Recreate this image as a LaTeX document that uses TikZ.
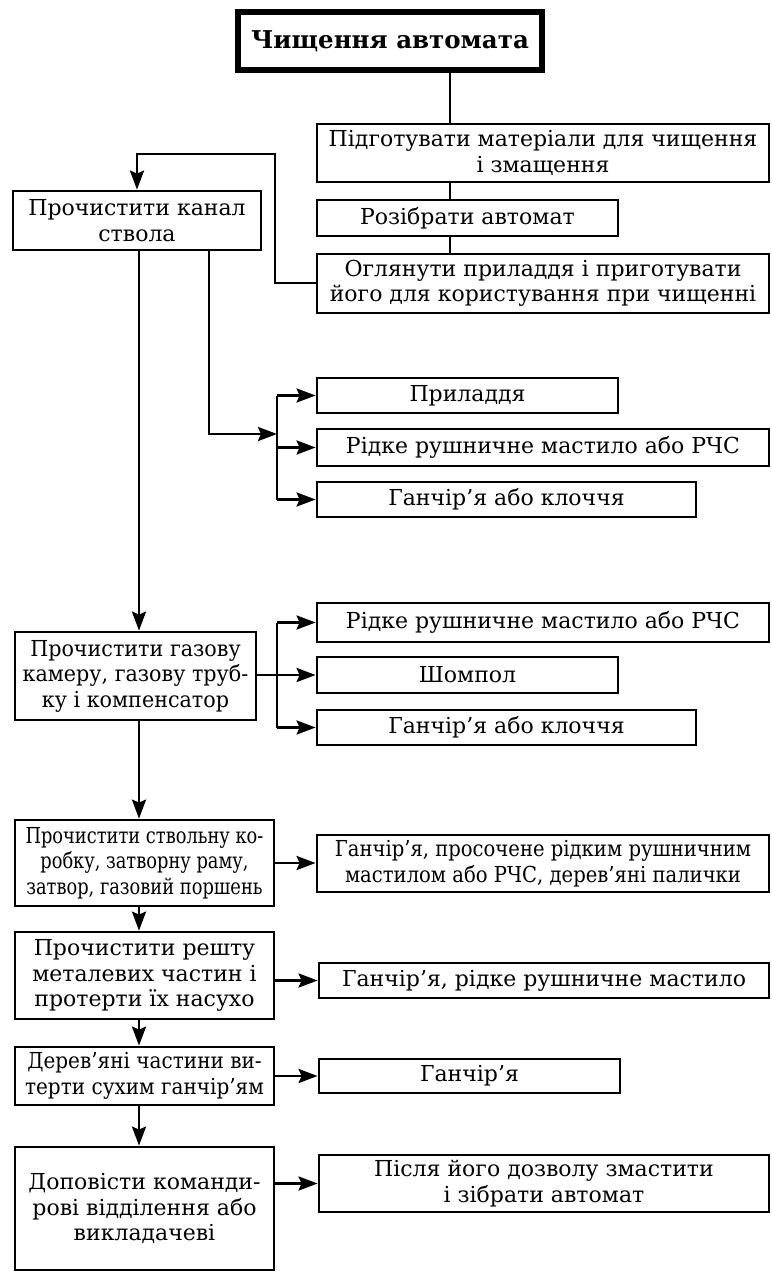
\documentclass[tikz,border=0pt]{standalone}
\usepackage{fontspec}
\setmainfont{DejaVu Serif}
\newfontfamily\condfont[FakeStretch=0.81]{DejaVu Serif}
\newfontfamily\semicond[FakeStretch=0.91]{DejaVu Serif}
\newfontfamily\slightcond[FakeStretch=0.94]{DejaVu Serif}
\newfontfamily\widecond[FakeStretch=0.89]{DejaVu Serif}
\usetikzlibrary{arrows.meta,calc}
\tikzset{
  box/.style={draw, line width=2.8pt, inner sep=0pt, align=center,
    font=\fontsize{22}{25.5}\selectfont},
  titlebox/.style={draw, line width=5.5pt, inner sep=0pt, align=center,
    font=\fontsize{24.5}{28}\selectfont\bfseries},
  conn/.style={line width=2.8pt},
  arr/.style={line width=2.8pt, -{Stealth[length=19pt,width=14pt,inset=3pt]}},
}
\begin{document}
\begin{tikzpicture}[x=1pt,y=-1pt]
\useasboundingbox (0,0) rectangle (771,1274);
% top chain
\node[titlebox, minimum width=304, minimum height=58] (title) at (390,41) {Чищення автомата};
\node[box, minimum width=452, minimum height=58] (p1) at (543,153) {Підготувати матеріали для чищення\\і змащення};
\node[box, minimum width=301, minimum height=36] (p2) at (467.5,218) {Розібрати автомат};
\node[box, minimum width=452, minimum height=59] (p3) at (543,283.5) {Оглянути приладдя і приготувати\\його для користування при чищенні};
\coordinate (spine) at (450,0);
\draw[conn] (title.south -| spine) -- (p1.north -| spine);
\draw[conn] (p1.south -| spine) -- (p2.north -| spine);
\draw[conn] (p2.south -| spine) -- (p3.north -| spine);
% left column
\node[box, minimum width=248, minimum height=59] (c1) at (137,220.5) {Прочистити канал\\ствола};
\node[box, minimum width=241, minimum height=88] (c2) at (135.5,676) {\slightcond Прочистити газову\\\slightcond камеру, газову труб-\\\slightcond ку і компенсатор};
\node[box, minimum width=259, minimum height=86] (c3) at (144.5,863) {\condfont Прочистити ствольну ко-\\\condfont робку, затворну раму,\\\condfont затвор, газовий поршень};
\node[box, minimum width=259, minimum height=87] (c4) at (144.5,975.5) {Прочистити решту\\металевих частин і\\протерти їх насухо};
\node[box, minimum width=259, minimum height=58] (c5) at (144.5,1076) {\semicond Дерев’яні частини ви-\\\semicond терти сухим ганчір’ям};
\node[box, minimum width=259, minimum height=123] (c6) at (144.5,1208.5) {Доповісти команди-\\рові відділення або\\викладачеві};
% right items
\node[box, minimum width=301, minimum height=35] (a1) at (467.5,395.5) {Приладдя};
\node[box, minimum width=452, minimum height=37] (a2) at (543,447.5) {Рідке рушничне мастило або РЧС};
\node[box, minimum width=379, minimum height=35] (a3) at (506.5,499.5) {Ганчір’я або клоччя};
\node[box, minimum width=452, minimum height=39] (b1) at (543,622.5) {Рідке рушничне мастило або РЧС};
\node[box, minimum width=301, minimum height=36] (b2) at (467.5,675) {Шомпол};
\node[box, minimum width=379, minimum height=35] (b3) at (506.5,727.5) {Ганчір’я або клоччя};
\node[box, minimum width=452, minimum height=57] (r3) at (543,863.5) {\widecond Ганчір’я, просочене рідким рушничним\\\widecond мастилом або РЧС, дерев’яні палички};
\node[box, minimum width=450, minimum height=35] (r4) at (544,980.5) {Ганчір’я, рідке рушничне мастило};
\node[box, minimum width=301, minimum height=34] (r5) at (469.5,1076) {Ганчір’я};
\node[box, minimum width=450, minimum height=57] (r6) at (544,1183.5) {Після його дозволу змастити\\і зібрати автомат};
% feedback from p3 to c1
\coordinate (fbx) at (275,154);
\draw[arr] (p3.west |- 0,283) -- (fbx |- 0,283) -- (fbx) -- (c1.north |- fbx) -- (c1.north);
% c1 down to c2
\coordinate (lx) at (139,0);
\draw[arr] (c1.south -| lx) -- (c2.north -| lx);
% c1 to bus 1
\coordinate (busA) at (277,0);
\coordinate (c1b) at (209,0);
\draw[arr] (c1.south -| c1b) -- (c1b |- 0,434) -- (busA |- 0,434);
\draw[conn] (busA |- a1.west) -- (busA |- a3.west);
\draw[arr] (busA |- a1.west) -- (a1.west);
\draw[arr] (busA |- a2.west) -- (a2.west);
\draw[arr] (busA |- a3.west) -- (a3.west);
% c2 to bus 2
\draw[conn] (busA |- b1.west) -- (busA |- b3.west);
\draw[arr] (c2.east |- b2.west) -- (b2.west);
\draw[arr] (busA |- b1.west) -- (b1.west);
\draw[arr] (busA |- b3.west) -- (b3.west);
% left chain
\draw[arr] (c2.south -| lx) -- (c3.north -| lx);
\draw[arr] (c3.south -| lx) -- (c4.north -| lx);
\draw[arr] (c4.south -| lx) -- (c5.north -| lx);
\draw[arr] (c5.south -| lx) -- (c6.north -| lx);
% right arrows
\draw[arr] (c3.east) -- (r3.west |- c3.east);
\draw[arr] (c4.east |- r4.west) -- (r4.west);
\draw[arr] (c5.east) -- (r5.west);
\draw[arr] (c6.east |- r6.west) -- (r6.west);
\end{tikzpicture}
\end{document}
